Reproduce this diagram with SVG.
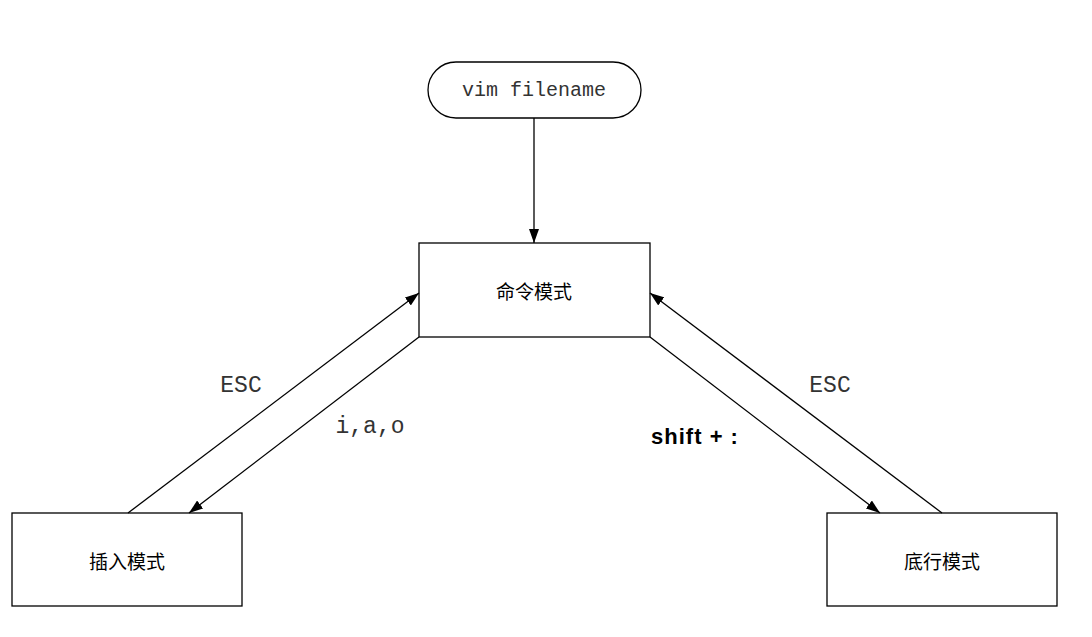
<svg xmlns="http://www.w3.org/2000/svg" width="1092" height="637" viewBox="0 0 1092 637">
<style>
.box{fill:#fff;stroke:#000;stroke-width:1.3}
.cjk{font-family:"Noto Sans CJK SC","Noto Sans",sans-serif;font-size:19px;fill:#000;text-anchor:middle;dominant-baseline:central}
.mono{font-family:"Liberation Mono",monospace;font-size:20px;fill:#333;text-anchor:middle;dominant-baseline:central}
.lbl{font-family:"Liberation Mono",monospace;font-size:23px;fill:#333;text-anchor:middle;dominant-baseline:central}
.edge{stroke:#000;stroke-width:1.3;fill:none;marker-end:url(#arr)}
.bold{font-family:"Liberation Sans",Arial,sans-serif;font-size:22px;font-weight:bold;fill:#000;text-anchor:middle;dominant-baseline:central;letter-spacing:1px}
</style>
<defs>
<marker id="arr" viewBox="0 0 14 10" refX="14" refY="5" markerWidth="14" markerHeight="10" markerUnits="userSpaceOnUse" orient="auto">
<path d="M0,0 L14,5 L0,10 Z" fill="#000"/>
</marker>
</defs>
<rect width="1092" height="637" fill="#fff"/>
<g id="start">
<rect class="box" x="428" y="62" width="213" height="56" rx="28" ry="28"/>
<text class="mono" x="534" y="90">vim filename</text>
</g>
<g id="command">
<rect class="box" x="419" y="243" width="231" height="94"/>
<text class="cjk" x="534" y="290">命令模式</text>
</g>
<g id="insert">
<rect class="box" x="12" y="513" width="230" height="93"/>
<text class="cjk" x="127" y="560">插入模式</text>
</g>
<g id="lastline">
<rect class="box" x="827" y="513" width="230" height="93"/>
<text class="cjk" x="942" y="560">底行模式</text>
</g>
<g id="connectors">
<line class="edge" x1="128" y1="513" x2="419" y2="293"/>
<line class="edge" x1="534" y1="118" x2="534" y2="243"/>
<line class="edge" x1="419" y1="337" x2="189" y2="513"/>
<line class="edge" x1="650" y1="337" x2="880" y2="513"/>
<line class="edge" x1="942" y1="513" x2="650" y2="293"/>
<text class="lbl" x="241" y="386">ESC</text>
<text class="lbl" x="370" y="427">i,a,o</text>
<text class="lbl" x="830" y="386">ESC</text>
<text class="bold" x="695" y="436">shift + :</text>
</g>
</svg>
